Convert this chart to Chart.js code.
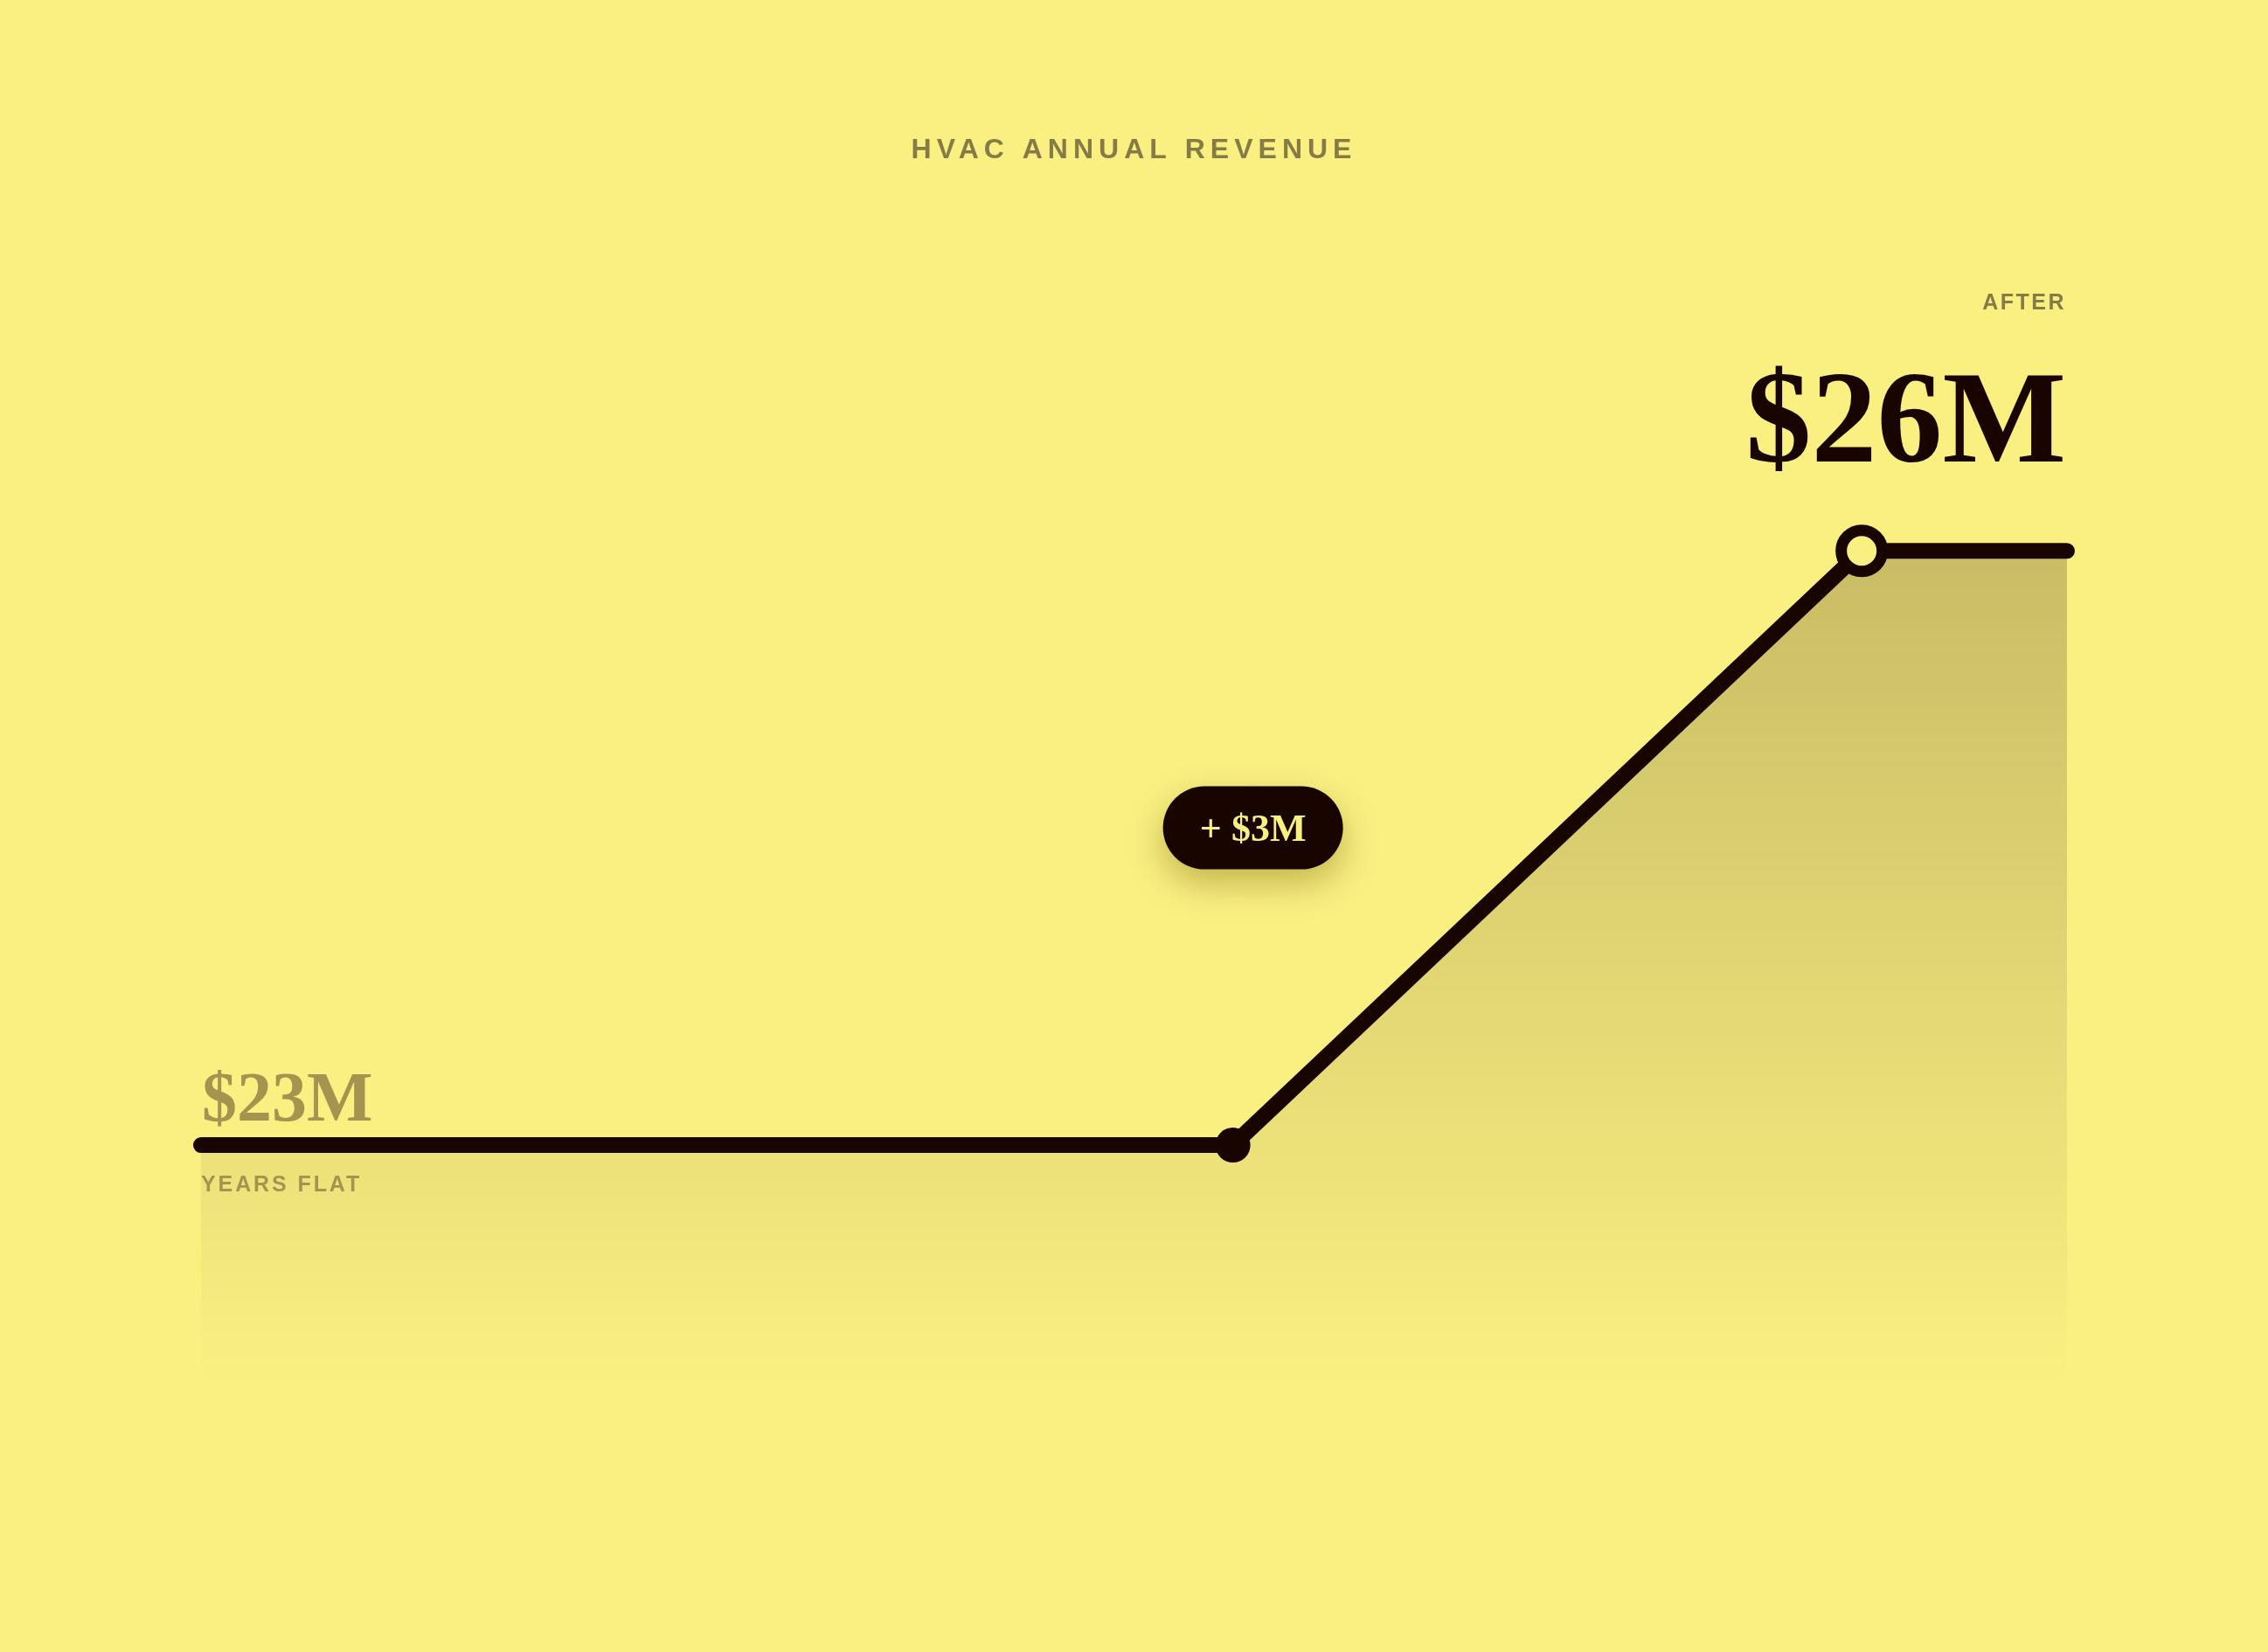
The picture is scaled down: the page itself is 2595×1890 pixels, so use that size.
<!DOCTYPE html>
<html>
<head>
<meta charset="utf-8">
<script src="https://cdn.jsdelivr.net/npm/chart.js@4.4.1/dist/chart.umd.min.js"></script>
<style>
  html, body { margin: 0; padding: 0; background: #FAF082; }
  #wrap { position: relative; width: 2595px; height: 1890px; }
</style>
</head>
<body>
<div id="wrap"><canvas id="c"></canvas></div>
<script>
// ---- data ----
const titleText = 'HVAC ANNUAL REVENUE';
const stages = ['Start', 'Years flat', 'After', 'Now'];
const timeline = [0, 55.3, 89, 100];        // position along the timeline (%)
const revenueM = [23, 23, 26, 26];           // annual revenue, $M
const beforeLabel = '$23M';
const beforeCaption = 'YEARS FLAT';
const afterLabel = '$26M';
const afterCaption = 'AFTER';
const deltaLabel = '+ $3M';

const BG = '#FAF082';
const INK = '#180500';
const MUTED = '#A39550';
const TITLE = '#857B47';

const annotations = {
  id: 'annotations',
  afterDatasetsDraw(chart) {
    const ctx = chart.ctx;
    const pts = chart.getDatasetMeta(0).data;
    const area = chart.chartArea;
    const p0 = pts[0], p1 = pts[1], p2 = pts[2];
    ctx.save();
    // title
    ctx.fillStyle = TITLE;
    ctx.font = 'bold 32px "Liberation Sans", Arial, sans-serif';
    ctx.letterSpacing = '6px';
    ctx.textAlign = 'center';
    ctx.textBaseline = 'middle';
    ctx.fillText(titleText, chart.width / 2, 172);

    // after caption + value
    ctx.textBaseline = 'alphabetic';
    ctx.textAlign = 'right';
    ctx.font = 'bold 25px "Liberation Sans", Arial, sans-serif';
    ctx.letterSpacing = '2.5px';
    ctx.fillStyle = TITLE;
    ctx.fillText(afterCaption, area.right - 1, p2.y - 276);
    ctx.letterSpacing = '0px';
    ctx.font = 'bold 150px "Liberation Serif", "Times New Roman", serif';
    ctx.fillStyle = INK;
    ctx.fillText(afterLabel, area.right - 1, p2.y - 102);

    // before value + caption
    ctx.textAlign = 'left';
    ctx.font = 'bold 80px "Liberation Serif", "Times New Roman", serif';
    ctx.fillStyle = MUTED;
    ctx.fillText(beforeLabel, area.left + 1, p0.y - 28);
    ctx.font = 'bold 25px "Liberation Sans", Arial, sans-serif';
    ctx.letterSpacing = '2.9px';
    ctx.fillText(beforeCaption, area.left, p0.y + 53);
    ctx.letterSpacing = '0px';

    // delta badge
    const cx = p1.x + 23, cy = p1.y - 363, w = 206, h = 95;
    ctx.save();
    ctx.shadowColor = 'rgba(110,90,0,0.40)';
    ctx.shadowBlur = 40;
    ctx.shadowOffsetY = 16;
    ctx.fillStyle = INK;
    ctx.beginPath();
    ctx.roundRect(cx - w / 2, cy - h / 2, w, h, h / 2);
    ctx.fill();
    ctx.restore();
    ctx.fillStyle = BG;
    ctx.textAlign = 'center';
    ctx.font = 'bold 44px "Liberation Serif", "Times New Roman", serif';
    ctx.fillText(deltaLabel, cx, cy + 15);
    ctx.restore();
  }
};

const points = timeline.map((x, i) => ({ x: x, y: revenueM[i] }));

new Chart(document.getElementById('c'), {
  type: 'line',
  data: {
    labels: stages,
    datasets: [{
      data: points,
      borderColor: INK,
      borderWidth: 18,
      borderCapStyle: 'round',
      borderJoinStyle: 'round',
      tension: 0,
      clip: false,
      fill: 'start',
      backgroundColor(ctx) {
        const chart = ctx.chart;
        const area = chart.chartArea;
        if (!area) return 'rgba(24,6,0,0.1)';
        const top = chart.scales.y.getPixelForValue(Math.max(...revenueM));
        const g = chart.ctx.createLinearGradient(0, top, 0, area.bottom);
        g.addColorStop(0, 'rgba(24,6,0,0.22)');
        g.addColorStop(1, 'rgba(24,6,0,0)');
        return g;
      },
      pointRadius: [0, 20, 23.5, 0],
      pointBorderWidth: [0, 0, 13, 0],
      pointBorderColor: INK,
      pointBackgroundColor: [INK, INK, BG, INK],
      pointHoverRadius: [0, 20, 23.5, 0]
    }]
  },
  options: {
    responsive: true,
    maintainAspectRatio: false,
    animation: false,
    events: [],
    layout: { padding: { left: 230, right: 230, top: 517, bottom: 308 } },
    plugins: { legend: { display: false }, tooltip: { enabled: false }, title: { display: false } },
    scales: {
      x: { type: 'linear', min: 0, max: 100, display: false },
      y: { min: 21.8, max: 26.5, display: false }
    }
  },
  plugins: [annotations]
});
</script>
</body>
</html>
